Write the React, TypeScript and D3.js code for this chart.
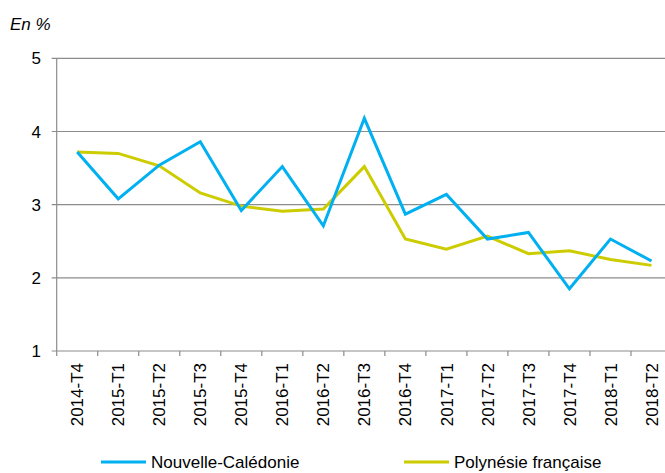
import * as d3 from "d3"
import { useEffect, useRef } from "react"

const quarters = [
  "2014-T4", "2015-T1", "2015-T2", "2015-T3", "2015-T4",
  "2016-T1", "2016-T2", "2016-T3", "2016-T4", "2017-T1",
  "2017-T2", "2017-T3", "2017-T4", "2018-T1", "2018-T2",
]

const nouvelleCaledonie = [
  3.72, 3.08, 3.54, 3.86, 2.92, 3.52, 2.71, 4.18, 2.87, 3.14, 2.53, 2.62, 1.85, 2.53, 2.23,
]

const polynesieFrancaise = [
  3.72, 3.70, 3.53, 3.16, 2.98, 2.91, 2.94, 3.52, 2.53, 2.39, 2.57, 2.33, 2.37, 2.25, 2.17,
]

const yTicks = [1, 2, 3, 4, 5]

const series = [
  { name: "Nouvelle-Calédonie", values: nouvelleCaledonie, color: "#00B0F0" },
  { name: "Polynésie française", values: polynesieFrancaise, color: "#CCCC00" },
]

const W = 665
const H = 473
const FONT = "Liberation Sans, Arial, sans-serif"

const App = () => {
  const svgRef = useRef<SVGSVGElement | null>(null)

  useEffect(() => {
    if (!svgRef.current) return
    const svg = d3.select(svgRef.current)
    svg.selectAll("*").remove()

    const left = 56.7
    const top = 58.3
    const bottom = 351
    const bandW = 41.02

    const x = d3
      .scaleBand()
      .domain(quarters)
      .range([left, left + bandW * quarters.length])

    const y = d3.scaleLinear().domain([1, 5]).range([bottom, top])

    // y gridlines
    svg
      .append("g")
      .selectAll("line")
      .data(yTicks)
      .enter()
      .append("line")
      .attr("x1", left - 5)
      .attr("x2", W)
      .attr("y1", (d) => y(d))
      .attr("y2", (d) => y(d))
      .attr("stroke", "#8c8c8c")
      .attr("stroke-width", 1.2)

    // y axis line
    svg
      .append("line")
      .attr("x1", left)
      .attr("x2", left)
      .attr("y1", top)
      .attr("y2", bottom)
      .attr("stroke", "#8c8c8c")
      .attr("stroke-width", 1.2)

    // y labels
    svg
      .append("g")
      .selectAll("text")
      .data(yTicks)
      .enter()
      .append("text")
      .attr("x", 41)
      .attr("y", (d) => y(d))
      .attr("dy", "0.36em")
      .attr("text-anchor", "end")
      .style("font", `17px ${FONT}`)
      .attr("fill", "#000")
      .text((d) => d)

    // x ticks
    svg
      .append("g")
      .selectAll("line")
      .data(d3.range(quarters.length + 1))
      .enter()
      .append("line")
      .attr("x1", (i) => left + i * x.bandwidth())
      .attr("x2", (i) => left + i * x.bandwidth())
      .attr("y1", bottom)
      .attr("y2", bottom + 5)
      .attr("stroke", "#8c8c8c")
      .attr("stroke-width", 1.2)

    // x labels
    svg
      .append("g")
      .selectAll("text")
      .data(quarters)
      .enter()
      .append("text")
      .attr(
        "transform",
        (d) => `translate(${x(d)! + x.bandwidth() / 2},363) rotate(-90)`,
      )
      .attr("dy", "0.36em")
      .attr("text-anchor", "end")
      .style("font", `17px ${FONT}`)
      .attr("fill", "#000")
      .text((d) => d)

    // lines
    const line = d3
      .line<number>()
      .x((_, i) => x(quarters[i])! + x.bandwidth() / 2)
      .y((d) => y(d))

    series
      .slice()
      .reverse()
      .forEach((s) => {
        svg
          .append("path")
          .datum(s.values)
          .attr("d", line)
          .attr("fill", "none")
          .attr("stroke", s.color)
          .attr("stroke-width", 3)
          .attr("stroke-linejoin", "miter")
      })

    // title
    svg
      .append("text")
      .attr("x", 10)
      .attr("y", 30)
      .style("font", `italic 17px ${FONT}`)
      .attr("fill", "#000")
      .text("En %")

    // legend
    const legendX = [101, 404]
    series.forEach((s, i) => {
      const g = svg.append("g").attr("transform", `translate(${legendX[i]},462)`)
      g.append("line")
        .attr("x1", 0)
        .attr("x2", 45)
        .attr("stroke", s.color)
        .attr("stroke-width", 3)
      g.append("text")
        .attr("x", 50)
        .attr("dy", "0.36em")
        .style("font", `17px ${FONT}`)
        .attr("fill", "#000")
        .text(s.name)
    })
  }, [])

  return (
    <svg
      ref={svgRef}
      width={W}
      height={H}
      style={{ position: "absolute", left: 0, top: 0, background: "#fff" }}
    />
  )
}

export default App
